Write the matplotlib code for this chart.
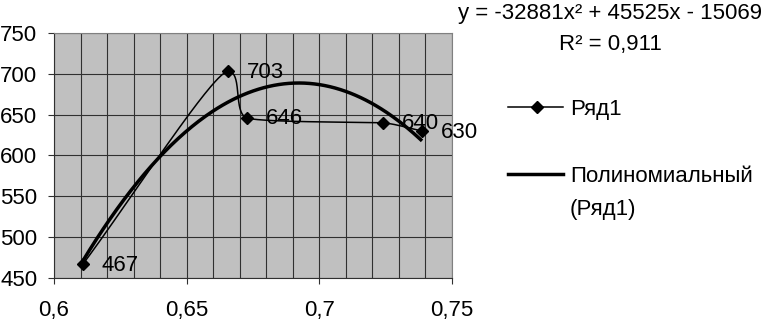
import numpy as np
import matplotlib
matplotlib.use("Agg")
import matplotlib.pyplot as plt
from matplotlib.lines import Line2D
from matplotlib.ticker import MultipleLocator, FuncFormatter

plt.rcParams['font.family'] = ['Liberation Sans', 'DejaVu Sans']

# ---- data ----
x_vals = [0.6109, 0.6656, 0.6727, 0.7240, 0.7387]
y_vals = [467, 703, 646, 640, 630]
point_labels = ["467", "703", "646", "640", "630"]
trend_coef = [-32881, 45525, -15069]
equation_text = "y = -32881x² + 45525x - 15069"
r2_text = "R² = 0,911"
series_name = "Ряд1"
trend_name = "Полиномиальный\n(Ряд1)"
x_ticks = [0.6, 0.65, 0.7, 0.75]
y_ticks = [450, 500, 550, 600, 650, 700, 750]

FS = 16
W, H = 769, 321
fig = plt.figure(figsize=(W / 100, H / 100), dpi=100)
fig.patch.set_facecolor('white')
L, R, T, B = 54, 452, 33, 278
ax = fig.add_axes([L / W, 1 - B / H, (R - L) / W, (B - T) / H])
ax.set_facecolor('#c0c0c0')
ax.set_xlim(0.6, 0.75)
ax.set_ylim(450, 750)

# gridlines
ax.xaxis.set_major_locator(MultipleLocator(0.05))
ax.xaxis.set_minor_locator(MultipleLocator(0.01))
ax.yaxis.set_major_locator(MultipleLocator(50))
ax.grid(True, which='major', axis='y', color='#303030', lw=0.8)
ax.grid(True, which='both', axis='x', color='#303030', lw=0.8)
ax.set_axisbelow(True)

fmt = FuncFormatter(lambda v, p: ('%g' % v).replace('.', ','))
ax.set_xticks(x_ticks)
ax.set_yticks(y_ticks)
ax.xaxis.set_major_formatter(fmt)
ax.tick_params(axis='x', which='major', length=4, width=0.8, pad=12, labelsize=FS, color='#303030')
ax.tick_params(axis='x', which='minor', length=0)
ax.tick_params(axis='y', length=4, width=0.8, pad=8, labelsize=FS, color='#303030')
for s in ['left', 'bottom']:
    ax.spines[s].set_color('#303030')
    ax.spines[s].set_linewidth(0.8)
for s in ['right', 'top']:
    ax.spines[s].set_color('#808080')
    ax.spines[s].set_linewidth(0.8)

# ---- smoothed series line (Bezier through the points, computed in pixel-like space) ----
xs = np.array(x_vals, dtype=float); ys = np.array(y_vals, dtype=float)
sx = (R - L) / 0.15
sy = (B - T) / 300.0
P = np.column_stack([(xs - 0.6) * sx, (ys - 450) * sy])
n = len(P)
seglen = np.linalg.norm(np.diff(P, axis=0), axis=1)
dirs = []
for i in range(n):
    a = P[max(i - 1, 0)]; b = P[min(i + 1, n - 1)]
    d = b - a
    if 0 < i < n - 1 and (P[i, 1] - P[i - 1, 1]) * (P[i + 1, 1] - P[i, 1]) < 0:
        d = np.array([d[0], 0.0])
    dirs.append(d / np.linalg.norm(d))
def reach(i):
    c = []
    if i > 0: c.append(seglen[i - 1])
    if i < n - 1: c.append(seglen[i])
    return min(c) * 0.3
curve = []
t = np.linspace(0, 1, 60)
for i in range(n - 1):
    p0, p3 = P[i], P[i + 1]
    c1 = p0 + dirs[i] * (reach(i) if i > 0 else seglen[i] * 0.3)
    c2 = p3 - dirs[i + 1] * (reach(i + 1) if i + 1 < n - 1 else seglen[i] * 0.3)
    lo, hi = min(p0[1], p3[1]), max(p0[1], p3[1])
    c1[1] = np.clip(c1[1], lo, hi); c2[1] = np.clip(c2[1], lo, hi)
    pts = ((1 - t)[:, None] ** 3 * p0 + 3 * ((1 - t) ** 2 * t)[:, None] * c1
           + 3 * ((1 - t) * t ** 2)[:, None] * c2 + (t ** 3)[:, None] * p3)
    curve.append(pts)
curve = np.vstack(curve)
cx = curve[:, 0] / sx + 0.6
cy = curve[:, 1] / sy + 450
ax.plot(cx, cy, color='black', lw=1.1, zorder=3)
ax.plot(xs, ys, ls='none', marker='D', ms=6, color='black', zorder=4)

# trendline
tx = np.linspace(xs.min(), xs.max(), 200)
ty = np.polyval(trend_coef, tx)
ax.plot(tx, ty, color='black', lw=2.5, zorder=3.5, solid_capstyle='butt')

# data labels
for xv, yv, lab in zip(x_vals, y_vals, point_labels):
    ax.annotate(lab, (xv, yv), xytext=(13.7, -4.7), textcoords='offset points',
                ha='left', va='baseline', fontsize=FS, annotation_clip=False)

# equation
fig.text(610 / W, 1 - 19 / H, equation_text, ha='center', va='baseline', fontsize=FS)
fig.text(610 / W, 1 - 50 / H, r2_text, ha='center', va='baseline', fontsize=FS)

# legend (manual)
fig.add_artist(Line2D([508 / W, 563 / W], [1 - 107 / H, 1 - 107 / H], color='black', lw=1.1))
fig.add_artist(Line2D([537 / W], [1 - 107 / H], marker='D', ms=6, color='black'))
fig.text(570 / W, 1 - 115 / H, series_name, ha='left', va='baseline', fontsize=FS)
fig.add_artist(Line2D([508 / W, 563 / W], [1 - 174 / H, 1 - 174 / H], color='black', lw=2.5))
tl = trend_name.split('\n')
fig.text(570 / W, 1 - 182 / H, tl[0], ha='left', va='baseline', fontsize=FS)
fig.text(570 / W, 1 - 215 / H, tl[1], ha='left', va='baseline', fontsize=FS)

fig.savefig('out.png', dpi=100)
